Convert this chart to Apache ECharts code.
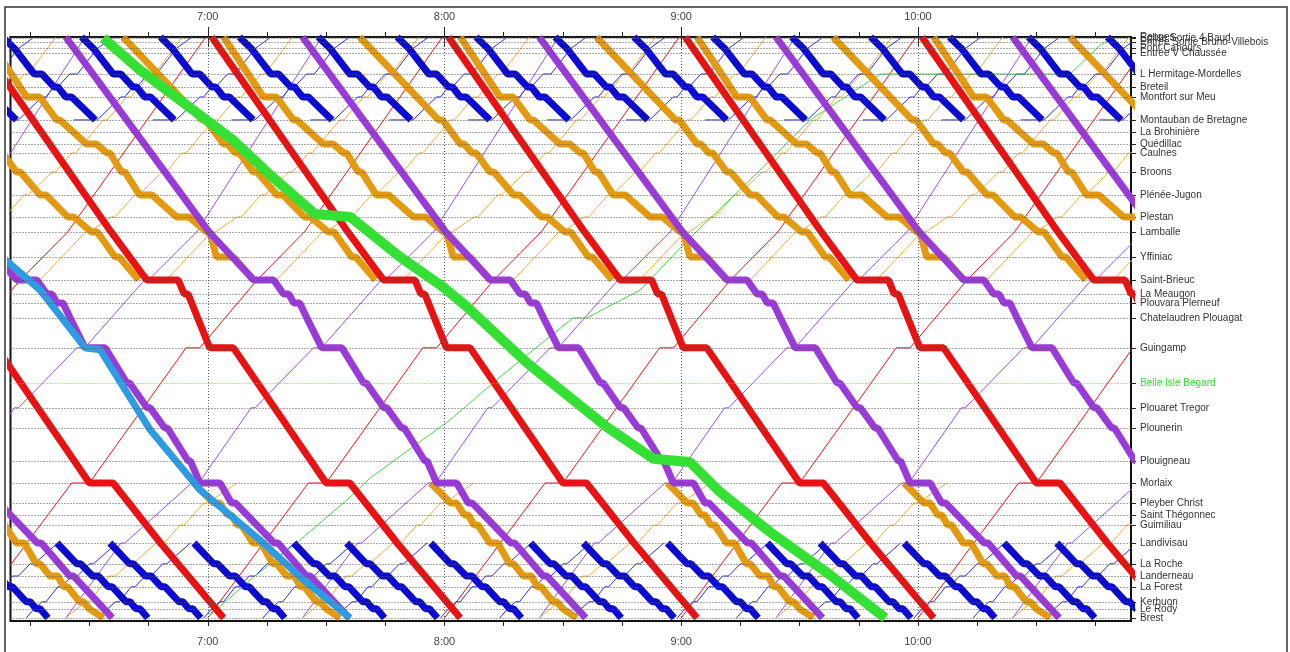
<!DOCTYPE html>
<html><head><meta charset="utf-8">
<script src="https://cdn.jsdelivr.net/npm/echarts@6/dist/echarts.min.js"></script>
<style>html,body{margin:0;padding:0;background:#fff}#c{width:1290px;height:652px}</style>
</head><body><div id="c"></div>
<script>
// ---- stations (km along the line, Rennes at the top) ----
const stationNames = ["Rennes","Eglise Sortie 4 Baud","Entrée Sortie Bruno-Villebois","Pont Cahours","Entrée V Chaussée",
 "L Hermitage-Mordelles","Breteil","Montfort sur Meu","Montauban de Bretagne","La Brohinière","Quédillac","Caulnes",
 "Broons","Plénée-Jugon","Plestan","Lamballe","Yffiniac","Saint-Brieuc","La Meaugon","Plouvara Plerneuf",
 "Chatelaudren Plouagat","Guingamp","Belle Isle Begard","Plouaret Tregor","Plounerin","Plouigneau","Morlaix",
 "Pleyber Christ","Saint Thégonnec","Guimiliau","Landivisau","La Roche","Landerneau","La Forest","Kerhuon","Le Rody","Brest"];
const stationKm = [0,0.6,2.1,4.9,7.0,15.8,21.3,25.6,35.4,40.5,45.7,49.5,57.6,67.4,76.8,83.2,93.9,103.7,109.7,113.5,
 119.9,132.7,147.7,158.3,166.9,181.0,190.4,198.9,204.0,208.3,216.0,224.9,230.1,234.7,241.1,244.1,248.0];
const highlightStation = "Belle Isle Begard";

// ---- time axis (minutes after midnight) ----
const hourValues = [420,480,540,600];
const hourLabels = ["7:00","8:00","9:00","10:00"];
const quarterValues = [375,390,405,420,435,450,465,480,495,510,525,540,555,570,585,600,615,630,645];

// ---- stopping patterns: [station, arrival offset, departure offset] (minutes) ----
const redDownStops = [["Rennes",0,0],["Lamballe",34.5,34.5],["Saint-Brieuc",43.5,51.5],["La Meaugon",53,54],["Guingamp",59.5,65.5],["Morlaix",89,95],["Landivisau",107,107.5],["Brest",123,123]];
const redDownDeps = [301,361,421,481,541,601];
const redUpStops = [["Brest",0,0],["Morlaix",25.5,30],["Guingamp",54.5,58],["Saint-Brieuc",72.5,72.5],["Lamballe",84.5,84.5],["Rennes",119.5,119.5]];
const redUpDeps = [300,360,420,480,540,600];

const purpleDownStops = [["Rennes",0,0],["Lamballe",36.3,36.3],["Saint-Brieuc",47.6,52.7],["La Meaugon",55.2,56.5],["Plouvara Plerneuf",57.8,59.3],
 ["Chatelaudren Plouagat",61.1,61.6],["Guingamp",64.9,70],["Belle Isle Begard",75.5,76.2],["Plouaret Tregor",80.6,81.4],["Plounerin",85.1,85.8],["Plouigneau",91,91.6],
 ["Morlaix",94,99.1],["Pleyber Christ",102,103],["Landivisau",112.8,113.8],["Landerneau",121,122],["Brest",131.8,131.8]];
const purpleDownDeps = [264,324,384,444,504,564,624];
const purpleUpStops = [["Brest",0,0],["Landivisau",14,15],["Morlaix",31.9,33.7],["Plouaret Tregor",47,48],["Guingamp",62.8,64.8],["Saint-Brieuc",80,81],["Lamballe",93.2,93.2],["Rennes",124.9,124.9]];
const purpleUpDeps = [264,324,384,444,504,564,624];

const orangeADownStops = [["Rennes",0,0],["Montfort sur Meu",10.1,13.4],["Montauban de Bretagne",17.7,18.5],["Quédillac",25.3,27.8],["Caulnes",30.4,31.2],
 ["Broons",34.1,35],["Plénée-Jugon",38.7,41.8],["Plestan",48.1,51.2],["Lamballe",55.7,56.5],["Yffiniac",58.2,62.5],["Saint-Brieuc",67.6,67.6]];
const orangeADownDeps = [304,364,424,484,544,604];
const orangeBDownStops = [["Rennes",0,0],["Montauban de Bretagne",20,21],["Quédillac",25.5,26.5],["Caulnes",28.5,29.5],["Broons",33,34],
 ["Plénée-Jugon",39,40.5],["Plestan",46,47.5],["Lamballe",52,53.5],["Yffiniac",58,59],["Saint-Brieuc",64,64]];
const orangeBDownDeps = [338.5,398.5,458.5,518.5,578.5,638.5];
const orangeUpTopStops = [["Saint-Brieuc",0,0],["Lamballe",11.5,12.5],["Plestan",18,19],["Plénée-Jugon",24,25],["Broons",31,32],["Caulnes",36,37],
 ["Montauban de Bretagne",44,45],["Montfort sur Meu",50,51],["L Hermitage-Mordelles",56,57],["Rennes",64,64]];
const orangeUpTopDeps = [317.5,349.5,377.5,409.5,437.5,469.5,497.5,529.5,557.5,589.5,617.5,649.5];
const orangeDownBotStops = [["Morlaix",0,0],["Pleyber Christ",5,6.5],["Saint Thégonnec",8.5,9.5],["Guimiliau",11,12],["Landivisau",15,17],["La Roche",20,21],
 ["Landerneau",23.5,25.5],["La Forest",27,28],["Kerhuon",31,32],["Le Rody",33.5,34],["Brest",37,37]];
const orangeDownBotDeps = [356.5,416.5,476.5,536.5,596.5];
const orangeUpBotStops = [["Brest",0,0],["Kerhuon",5,6],["Landerneau",11,12.5],["La Roche",16,17],["Landivisau",23,25],["Guimiliau",29,30],["Pleyber Christ",35,36],["Morlaix",43.4,43.4]];
const orangeUpBotDeps = [324,384,444,504,564,624];

const blueTopDownStops = [["Rennes",0,0],["Pont Cahours",3,3.5],["L Hermitage-Mordelles",8,10],["Breteil",13,14],["Montfort sur Meu",16,17.5],["Montauban de Bretagne",23.5,23.5]];
const blueTopDownDeps = [328,348,368,388,408,428,448,468,488,508,528,548,568,588,608,628,648];
const blueTopUpStops = [["Montauban de Bretagne",-6,0],["Montfort sur Meu",6,7],["Breteil",9,10],["L Hermitage-Mordelles",13,15],["Pont Cahours",20,20.5],["Rennes",24,24]];
const blueTopUpDeps = [352,372,392,412,432,452,472,492,512,532,552,572,592,612,632,652];
const blueBotDownStops = [["Landivisau",0,0],["La Roche",5,6],["Landerneau",9,10.5],["La Forest",13,14],["Kerhuon",17.5,18.5],["Le Rody",20,21],["Brest",23,23]];
const blueBotDownDeps = [356.5,381.8,395.2,416.5,441.8,455.2,476.5,501.8,515.2,536.5,561.8,575.2,596.5,621.8,635.2];
const blueBotUpStops = [["Brest",0,0],["Le Rody",2,2.5],["Kerhuon",4,5],["La Forest",8,9],["Landerneau",11.5,13],["La Roche",16,17],["Landivisau",23,23]];
const blueBotUpDeps = [359,374,392.6,419,434,452.6,479,494,512.6,539,554,572.6,599,614,632.6];

// ---- individual trains: [time, km] ----
const greenDownPath = [[393.5,0.4],[402.8,14.1],[426.4,44.0],[435.8,58.9],[447.2,75.6],[456.1,76.8],[468.7,93.9],[479.6,106.7],[485.7,115.2],
 [500.9,139.1],[521.2,166.5],[532.9,180.0],[542.2,181.4],[549.8,194.2],[562.5,211.3],[577.7,229.6],[591.7,248.0]];
const greenUpPath = [[419.8,248.0],[430.7,231.8],[443.4,214.7],[455.3,197.6],[461.2,188.2],[481.4,163.5],[494.1,145.1],[512.6,119.9],[516.1,119.9],
 [529.6,108.0],[542.2,85.8],[560.0,56.8],[572.7,35.4],[590.4,15.8],[638.6,15.8],[646.2,3.4],[650.0,0.4]];
const lightBluePath = [[368,94.0],[377.5,108.0],[383,119.9],[388.9,132.7],[392.7,133.5],[405.4,167.7],[418.0,193.3],[433.2,214.7],[443.4,230.5],[456.1,248.0]];

// ---------------------------------------------------------------
const kmOf = n => stationKm[stationNames.indexOf(n)];
function trip(stops, dep){
  const pts = [];
  stops.forEach(([n,a,d]) => { const k = kmOf(n); pts.push([dep+a,k]); if (d !== a) pts.push([dep+d,k]); });
  return pts;
}
const series = [];
function addLine(data, color, width, z){
  series.push({type:'line', data, symbol:'none', showSymbol:false, silent:true, animation:false, z,
    lineStyle:{color, width, join:'bevel', cap:'butt'}});
}
function addGroup(stops, deps, color, width, z){ deps.forEach(d => addLine(trip(stops,d), color, width, z)); }

const C = {red:'#e81212', purple:'#9a3ad8', purpleThin:'#a04ce8', orange:'#e49a10', orangeThin:'#f2ad35',
  blue:'#0c0cd0', blueThin:'#2b2be8', green:'#35e035', greenThin:'#3bdc3b', lightBlue:'#2e9ce2'};
const labelFont = 'Liberation Sans, Arial, sans-serif';

// station grid lines with their names at the right-hand end
series.push({type:'line', data:[], silent:true, animation:false, z:1,
  markLine:{silent:true, symbol:'none', animation:false,
    lineStyle:{type:[1,2], color:'#555', width:1},
    label:{show:true, position:'end', distance:9, color:'#333', fontSize:10, fontFamily:labelFont, formatter: p => p.name},
    data: stationKm.map((k,i) => stationNames[i]===highlightStation
        ? {yAxis:k, name:stationNames[i], lineStyle:{color:'#44e044', type:[1,2], width:1}, label:{color:'#33dd33'}}
        : {yAxis:k, name:stationNames[i]})}});
// hour grid lines
series.push({type:'line', data:[], silent:true, animation:false, z:1,
  markLine:{silent:true, symbol:'none', animation:false, label:{show:false},
    lineStyle:{type:[1,2], color:'#555', width:1},
    data: hourValues.map(v => ({xAxis:v}))}});

// thin (up) trains
addGroup(redUpStops, redUpDeps, C.red, 1, 2);
addGroup(purpleUpStops, purpleUpDeps, C.purpleThin, 1, 2);
addGroup(orangeUpTopStops, orangeUpTopDeps, C.orangeThin, 1, 2);
addGroup(orangeUpBotStops, orangeUpBotDeps, C.orangeThin, 1, 2);
addGroup(blueTopUpStops, blueTopUpDeps, C.blueThin, 1, 2);
addGroup(blueBotUpStops, blueBotUpDeps, C.blueThin, 1, 2);
addLine(greenUpPath, C.greenThin, 1, 2);
// thick (down) trains
addGroup(orangeADownStops, orangeADownDeps, C.orange, 7, 3);
addGroup(orangeBDownStops, orangeBDownDeps, C.orange, 7, 3);
addGroup(orangeDownBotStops, orangeDownBotDeps, C.orange, 7, 3);
addGroup(blueTopDownStops, blueTopDownDeps, C.blue, 7, 3);
addGroup(blueBotDownStops, blueBotDownDeps, C.blue, 7, 3);
addGroup(purpleDownStops, purpleDownDeps, C.purple, 7, 4);
addGroup(redDownStops, redDownDeps, C.red, 7, 4);
addLine(lightBluePath, C.lightBlue, 7, 4);
addLine(greenDownPath, C.green, 10, 5);

const tMin = 370, tMax = 654;
const labelFmt = v => hourLabels[hourValues.indexOf(v)] || '';
function xAx(pos, withLabels, ticks, len){
  return {type:'value', position:pos, min:tMin, max:tMax,
    axisLine:{show:withLabels, lineStyle:{color:'#111', width:2}},
    axisTick:{show:true, customValues:ticks, length:len, lineStyle:{color:'#222', width:1}},
    axisLabel:{show:withLabels, customValues:hourValues, formatter:labelFmt, color:'#444', fontSize:11, fontFamily:labelFont, margin:15},
    splitLine:{show:false}};
}

const chart = echarts.init(document.getElementById('c'), null, {renderer:'canvas'});
chart.setOption({
  animation:false, backgroundColor:'#fff',
  graphic:[{type:'rect', shape:{x:5, y:7, width:1282, height:660}, style:{fill:null, stroke:'#333', lineWidth:1.5}, silent:true}],
  grid:{left:10.5, right:159, top:37, bottom:31, show:true, borderColor:'#111', borderWidth:2, backgroundColor:'transparent'},
  xAxis:[xAx('bottom',true,hourValues,10), xAx('bottom',false,quarterValues,5), xAx('top',true,hourValues,10), xAx('top',false,quarterValues,5)],
  yAxis:{type:'value', position:'right', inverse:true, min:0, max:249.3,
    axisLine:{show:true, lineStyle:{color:'#111', width:2}},
    axisTick:{show:true, customValues:stationKm, length:5, lineStyle:{color:'#222'}},
    axisLabel:{show:false},
    splitLine:{show:false}},
  series
});
</script></body></html>
